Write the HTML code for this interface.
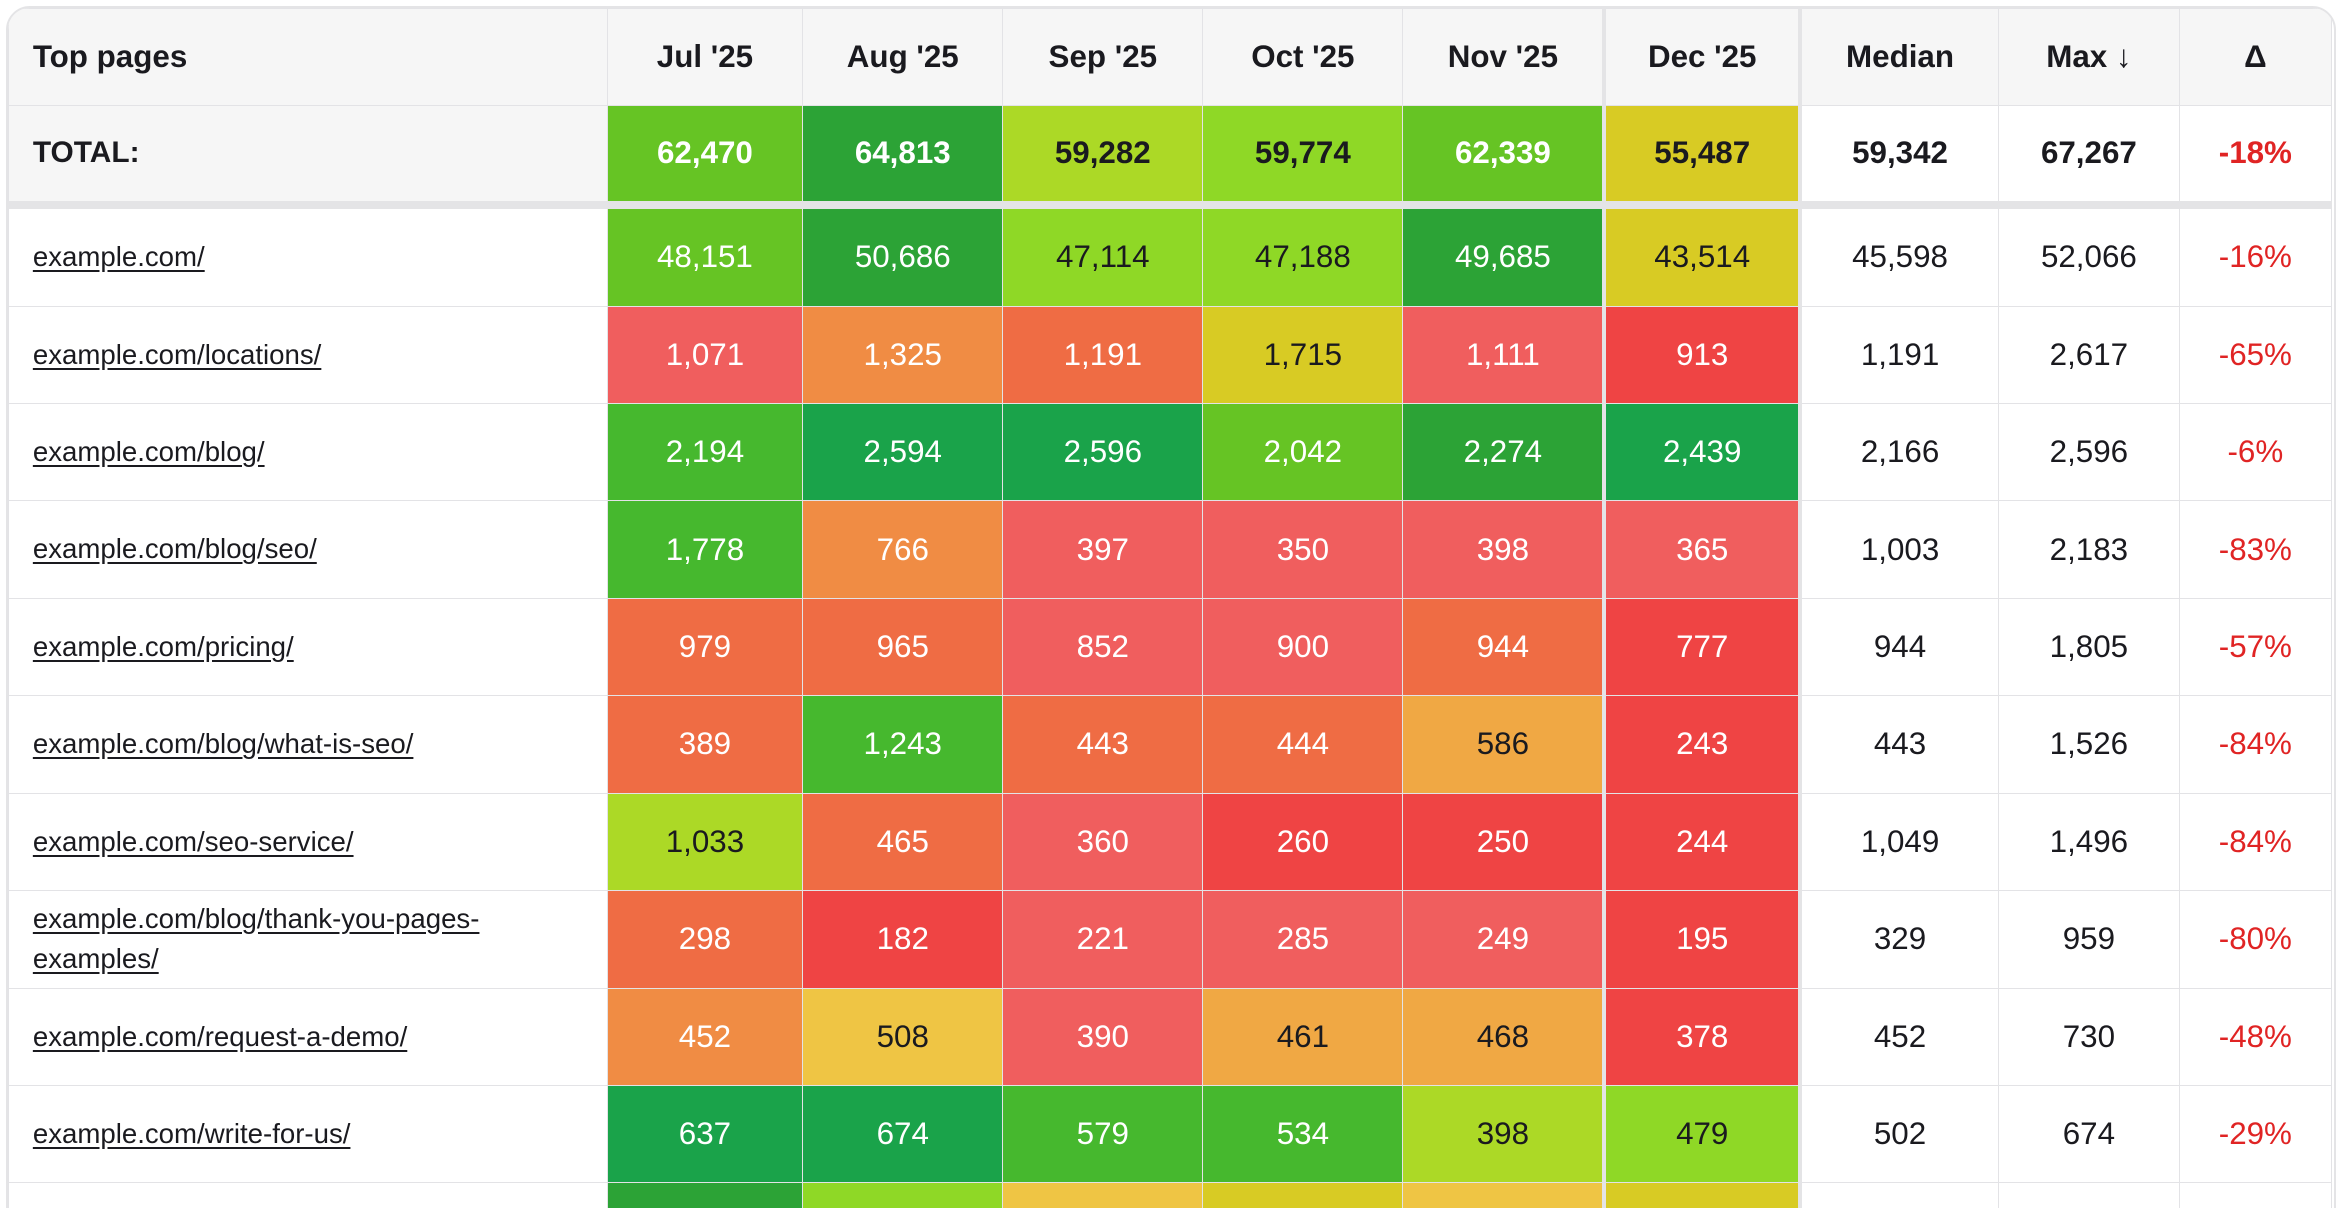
<!DOCTYPE html>
<html><head><meta charset="utf-8"><style>
html,body{margin:0;padding:0;background:#fff;overflow:hidden;width:2341px;height:1208px}
#w{zoom:1.493;width:1568px;height:809px;position:relative;overflow:hidden}
.box{position:absolute;left:4px;top:4px;width:1558px;height:900px;border:2px solid #e4e4e6;border-radius:16px;overflow:hidden;background:#fff}
table{border-collapse:collapse;table-layout:fixed;font-family:"Liberation Sans",sans-serif;color:#1a1a1f;font-size:21px}
td,th{border:1px solid #e3e3e6;text-align:center;padding:0;white-space:nowrap}
th{background:#f6f6f6;font-weight:bold;height:64px}
td.l{text-align:left;padding-left:16px;font-size:18.5px;white-space:normal;line-height:27px}
td.l u{text-decoration:underline;text-underline-offset:3px}
tr.tot td{height:64px;font-weight:bold;border-bottom:6px solid #e4e4e6}
tr.tot td.l{background:#f6f6f6;font-size:20px}
tbody tr.r td{height:64.6px}
.w{color:#fff}
.dec{border-left:3px solid #e4e4e6;border-right:3px solid #e4e4e6}
.d{color:#e02424}
.G1{background:#66c424}.G2{background:#2ca336}.G3{background:#acd926}.G4{background:#8fd826}.G5{background:#46b82e}.G6{background:#1aa34a}
.Y{background:#d8cb24}.R1{background:#f05e5e}.R2{background:#ef4444}.O1{background:#f08c44}.O2{background:#ef6c44}.A{background:#f0a844}.Y2{background:#efc544}
</style></head><body><div id="w"><div class="box">
<table>
<colgroup><col style="width:401px"><col style="width:131px"><col style="width:134px"><col style="width:134px"><col style="width:134px"><col style="width:135px"><col style="width:131px"><col style="width:133px"><col style="width:121px"><col style="width:102px"></colgroup>
<tr><th style="text-align:left;padding-left:16px">Top pages</th><th>Jul '25</th><th>Aug '25</th><th>Sep '25</th><th>Oct '25</th><th>Nov '25</th><th class="dec">Dec '25</th><th>Median</th><th>Max ↓</th><th>Δ</th></tr>
<tr class="tot"><td class="l">TOTAL:</td><td class="G1 w">62,470</td><td class="G2 w">64,813</td><td class="G3">59,282</td><td class="G4">59,774</td><td class="G1 w">62,339</td><td class="Y dec">55,487</td><td>59,342</td><td>67,267</td><td class="d">-18%</td></tr>
<tr class="r"><td class="l"><u>example.com/</u></td><td class="G1 w">48,151</td><td class="G2 w">50,686</td><td class="G4">47,114</td><td class="G4">47,188</td><td class="G2 w">49,685</td><td class="Y dec">43,514</td><td>45,598</td><td>52,066</td><td class="d">-16%</td></tr>
<tr class="r"><td class="l"><u>example.com/locations/</u></td><td class="R1 w">1,071</td><td class="O1 w">1,325</td><td class="O2 w">1,191</td><td class="Y">1,715</td><td class="R1 w">1,111</td><td class="R2 w dec">913</td><td>1,191</td><td>2,617</td><td class="d">-65%</td></tr>
<tr class="r"><td class="l"><u>example.com/blog/</u></td><td class="G5 w">2,194</td><td class="G6 w">2,594</td><td class="G6 w">2,596</td><td class="G1 w">2,042</td><td class="G2 w">2,274</td><td class="G6 w dec">2,439</td><td>2,166</td><td>2,596</td><td class="d">-6%</td></tr>
<tr class="r"><td class="l"><u>example.com/blog/seo/</u></td><td class="G5 w">1,778</td><td class="O1 w">766</td><td class="R1 w">397</td><td class="R1 w">350</td><td class="R1 w">398</td><td class="R1 w dec">365</td><td>1,003</td><td>2,183</td><td class="d">-83%</td></tr>
<tr class="r"><td class="l"><u>example.com/pricing/</u></td><td class="O2 w">979</td><td class="O2 w">965</td><td class="R1 w">852</td><td class="R1 w">900</td><td class="O2 w">944</td><td class="R2 w dec">777</td><td>944</td><td>1,805</td><td class="d">-57%</td></tr>
<tr class="r"><td class="l"><u>example.com/blog/what-is-seo/</u></td><td class="O2 w">389</td><td class="G5 w">1,243</td><td class="O2 w">443</td><td class="O2 w">444</td><td class="A">586</td><td class="R2 w dec">243</td><td>443</td><td>1,526</td><td class="d">-84%</td></tr>
<tr class="r"><td class="l"><u>example.com/seo-service/</u></td><td class="G3">1,033</td><td class="O2 w">465</td><td class="R1 w">360</td><td class="R2 w">260</td><td class="R2 w">250</td><td class="R2 w dec">244</td><td>1,049</td><td>1,496</td><td class="d">-84%</td></tr>
<tr class="r"><td class="l"><u>example.com/blog/thank-you-pages-<br>examples/</u></td><td class="O2 w">298</td><td class="R2 w">182</td><td class="R1 w">221</td><td class="R1 w">285</td><td class="R1 w">249</td><td class="R2 w dec">195</td><td>329</td><td>959</td><td class="d">-80%</td></tr>
<tr class="r"><td class="l"><u>example.com/request-a-demo/</u></td><td class="O1 w">452</td><td class="Y2">508</td><td class="R1 w">390</td><td class="A">461</td><td class="A">468</td><td class="R2 w dec">378</td><td>452</td><td>730</td><td class="d">-48%</td></tr>
<tr class="r"><td class="l"><u>example.com/write-for-us/</u></td><td class="G6 w">637</td><td class="G6 w">674</td><td class="G5 w">579</td><td class="G5 w">534</td><td class="G3">398</td><td class="G4 dec">479</td><td>502</td><td>674</td><td class="d">-29%</td></tr>
<tr class="r"><td class="l"></td><td class="G2"></td><td class="G4"></td><td class="Y2"></td><td class="Y"></td><td class="Y2"></td><td class="Y dec"></td><td></td><td></td><td></td></tr>
</table></div></div></body></html>
